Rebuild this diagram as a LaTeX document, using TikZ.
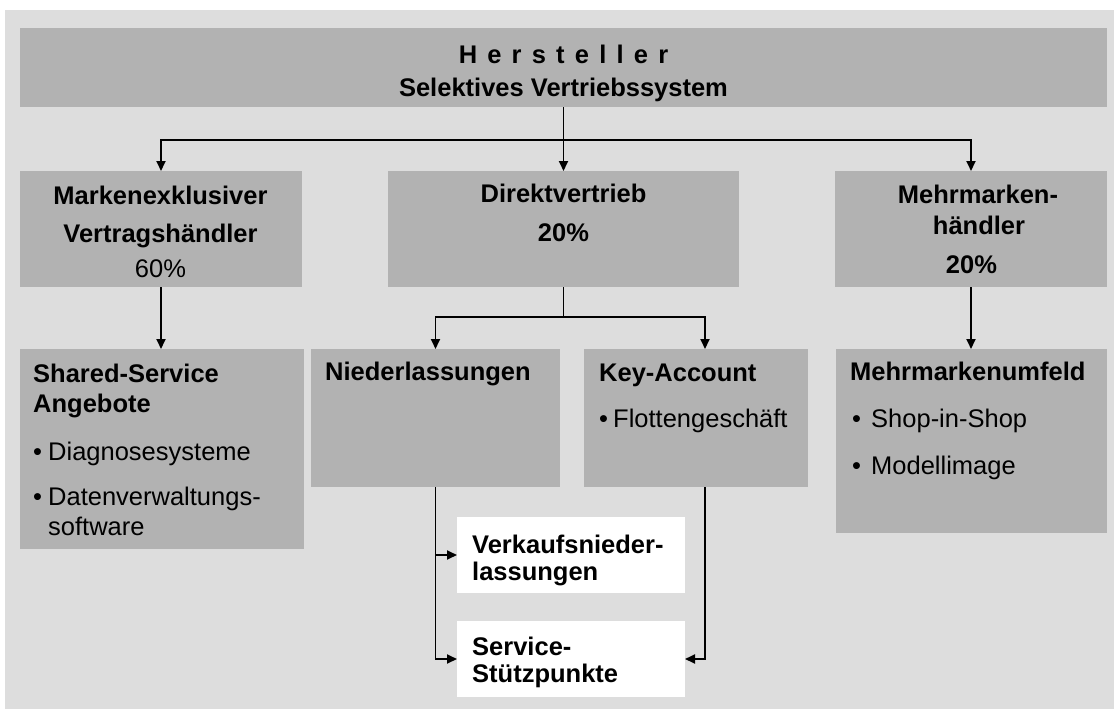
\documentclass[tikz,border=0pt]{standalone}
\usepackage{fontspec}
\setmainfont{Liberation Sans}
\usetikzlibrary{arrows.meta}
\definecolor{panelgray}{HTML}{DDDDDD}
\definecolor{boxgray}{HTML}{B2B2B2}
\begin{document}
\begin{tikzpicture}[x=1pt,y=-1pt,
  gbox/.style={fill=boxgray,draw=none,inner sep=0pt,outer sep=0pt},
  wbox/.style={fill=white,draw=none,inner sep=0pt,outer sep=0pt},
  txt/.style={inner sep=0pt,anchor=base,font=\fontsize{25.5pt}{30pt}\selectfont},
  ltxt/.style={txt,anchor=base west},
  bf/.style={font=\fontsize{25.5pt}{30pt}\selectfont\bfseries},
  arr/.style={line width=1.8pt,-{Triangle[length=10pt,width=9pt]}},
  conn/.style={line width=1.8pt}]
% canvas and grey panel
\useasboundingbox (0,0) rectangle (1114,709);
\fill[white] (0,0) rectangle (1114,709);
\fill[panelgray] (5,10) rectangle (1114,709);

% boxes
\node[gbox,minimum width=1087pt,minimum height=79pt] (top) at (563.5,67.5) {};
\node[gbox,minimum width=282pt,minimum height=116pt] (mex) at (161,229) {};
\node[gbox,minimum width=351pt,minimum height=116pt] (dir) at (563.5,229) {};
\node[gbox,minimum width=272pt,minimum height=116pt] (mm) at (971,229) {};
\node[gbox,minimum width=284pt,minimum height=200pt] (shs) at (162,449) {};
\node[gbox,minimum width=249pt,minimum height=138pt] (nl) at (435.5,418) {};
\node[gbox,minimum width=224pt,minimum height=138pt] (ka) at (696,418) {};
\node[gbox,minimum width=271pt,minimum height=184pt] (mmu) at (971.5,441) {};
\node[wbox,minimum width=228pt,minimum height=76pt] (vk) at (571,555) {};
\node[wbox,minimum width=228pt,minimum height=76pt] (sp) at (571,659) {};

% texts
\node[txt,bf] (t1) at (563.5,64) {{\spaceskip=10.2pt plus 0pt minus 0pt\relax H e r s t e l l e r}};
\node[txt,bf] (t2) at (563.5,96) {Selektives Vertriebssystem};

\node[txt,bf] (m1) at (160.5,204) {Markenexklusiver};
\node[txt,bf] (m2) at (160.5,242) {Vertragshändler};
\node[txt] (m3) at (160.5,277) {60\%};

\node[txt,bf] (d1) at (563.5,202) {Direktvertrieb};
\node[txt,bf] (d2) at (563.5,241) {20\%};

\node[txt,bf] (h1) at (978,203) {Mehrmarken-};
\node[txt,bf] (h2) at (979,234) {händler};
\node[txt,bf] (h3) at (971.5,273) {20\%};

\node[ltxt,bf] (s1) at (33,382) {Shared-Service};
\node[ltxt,bf] (s2) at (33,412) {Angebote};
\node[ltxt] (s3b) at (33,460) {\textbullet};
\node[ltxt] (s3) at (48,460) {Diagnosesysteme};
\node[ltxt] (s4b) at (33,505) {\textbullet};
\node[ltxt] (s4) at (48,505) {Datenverwaltungs-};
\node[ltxt] (s5) at (48,535) {software};

\node[ltxt,bf] (n1) at (325,380) {Niederlassungen};

\node[ltxt,bf] (k1) at (599,381) {Key-Account};
\node[ltxt] (k2b) at (599,427) {\textbullet};
\node[ltxt] (k2) at (613,427) {Flottengeschäft};

\node[ltxt,bf] (u1) at (850,380) {Mehrmarkenumfeld};
\node[ltxt] (u2b) at (852,427) {\textbullet};
\node[ltxt] (u2) at (871,427) {Shop-in-Shop};
\node[ltxt] (u3b) at (852,474) {\textbullet};
\node[ltxt] (u3) at (871,474) {Modellimage};

\node[ltxt,bf] (v1) at (472,553) {Verkaufsnieder-};
\node[ltxt,bf] (v2) at (472,580) {lassungen};
\node[ltxt,bf] (p1) at (472,655) {Service-};
\node[ltxt,bf] (p2) at (472,682) {Stützpunkte};

% connectors, first level
\coordinate (jt) at (563.5,140);
\draw[arr] (top.south) -- (dir.north);
\draw[arr] (jt) -| (mex.north);
\draw[arr] (jt) -| (mm.north);

% connectors, second level
\draw[arr] (mex.south) -- (mex.south |- shs.north);
\draw[arr] (mm.south) -- (mm.south |- mmu.north);
\coordinate (jd) at (563.5,317);
\draw[conn] (dir.south) -- (jd);
\draw[arr] (jd) -| (nl.north);
\draw[arr] (jd) -| ([xshift=9pt]ka.north);

% connectors to the white boxes
\draw[arr] (nl.south) |- (sp.west);
\draw[arr] (nl.south |- vk.west) -- (vk.west);
\draw[arr] ([xshift=9pt]ka.south) |- (sp.east);
\end{tikzpicture}
\end{document}
